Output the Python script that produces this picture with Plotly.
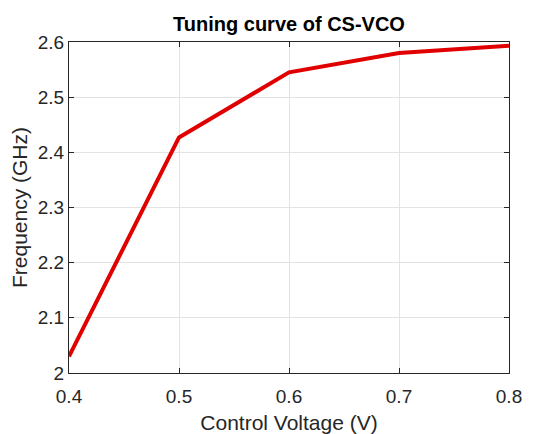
import plotly.graph_objects as go

voltage = [0.4, 0.5, 0.6, 0.7, 0.8]
frequency = [2.03, 2.427, 2.545, 2.58, 2.593]

x_ticks = [0.4, 0.5, 0.6, 0.7, 0.8]
x_tick_text = ["0.4", "0.5", "0.6", "0.7", "0.8"]
y_ticks = [2.0, 2.1, 2.2, 2.3, 2.4, 2.5, 2.6]
y_tick_text = ["2", "2.1", "2.2", "2.3", "2.4", "2.5", "2.6"]

font_family = "Liberation Sans, Arial, sans-serif"
axis_color = "#262626"

# page body has an 8px margin; figure is sized/offset to compensate
W, H = 530, 426
L, R, T, B = 61, 29, 34, 61

fig = go.Figure()
fig.add_trace(go.Scatter(
    x=voltage, y=frequency, mode="lines",
    line=dict(color="#e00000", width=4),
    showlegend=False,
))

fig.update_layout(
    width=W, height=H,
    margin=dict(l=L, r=R, t=T, b=B),
    paper_bgcolor="white", plot_bgcolor="white",
    font=dict(family=font_family, color=axis_color),
    title=dict(text="<b>Tuning curve of CS-VCO</b>", x=(L + (W - R)) / 2 / W, xanchor="center",
               y=1 - 16 / H, yanchor="middle", font=dict(size=20, color="#000000")),
)

fig.update_xaxes(
    range=[0.4, 0.8], tickvals=x_ticks, ticktext=x_tick_text,
    showgrid=True, gridcolor="#e3e3e3", gridwidth=1,
    showline=True, linecolor=axis_color, linewidth=1, mirror="ticks",
    ticks="inside", ticklen=5, tickcolor=axis_color,
    tickfont=dict(size=19, color=axis_color), ticklabelstandoff=6,
    title=dict(text="Control Voltage (V)", font=dict(size=21, color=axis_color), standoff=9),
    zeroline=False, automargin=False,
)
fig.update_yaxes(
    range=[2.0, 2.6], tickvals=y_ticks, ticktext=y_tick_text,
    showgrid=True, gridcolor="#e3e3e3", gridwidth=1,
    showline=True, linecolor=axis_color, linewidth=1, mirror="ticks",
    ticks="inside", ticklen=5, tickcolor=axis_color,
    tickfont=dict(size=19, color=axis_color),
    title=dict(text="Frequency (GHz)", font=dict(size=21, color=axis_color), standoff=6),
    zeroline=False, automargin=False,
)

fig.write_html("out.html")
